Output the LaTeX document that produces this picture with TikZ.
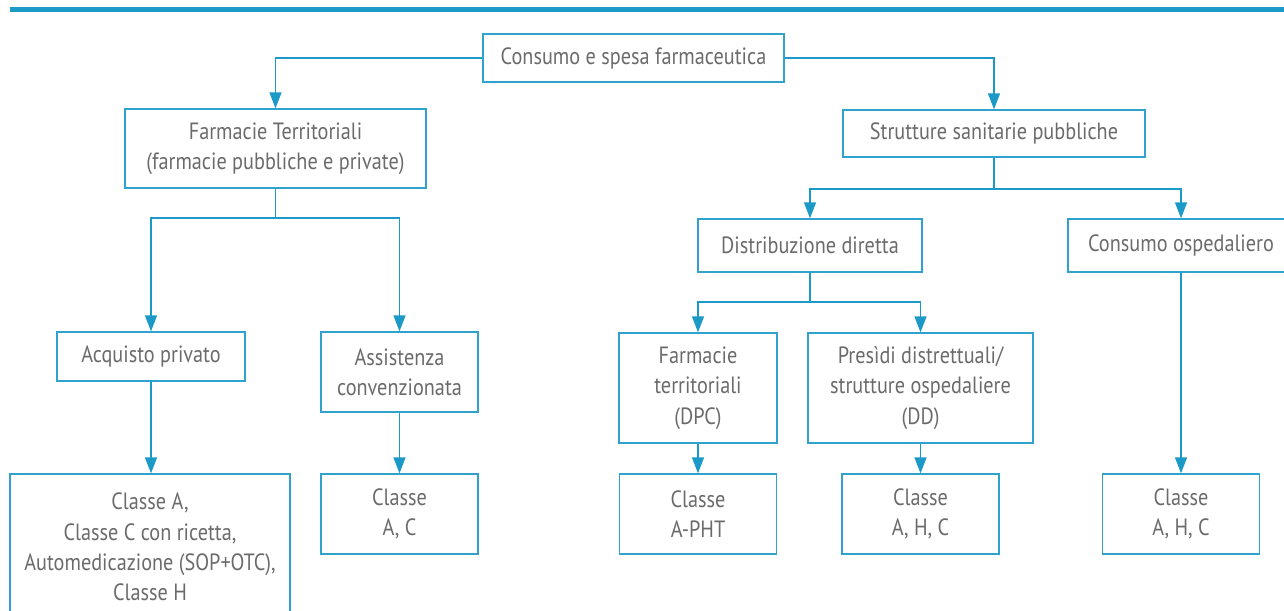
\documentclass[tikz,border=0pt]{standalone}
\usepackage{fontspec}
\setmainfont{PT Sans}[FakeStretch=0.86]
\usetikzlibrary{arrows.meta}
\definecolor{linkblue}{HTML}{1B9AC7}
\definecolor{boxblue}{HTML}{2FA2CD}
\definecolor{textgray}{HTML}{6B6B6B}
\begin{document}
\begin{tikzpicture}[x=0.02cm, y=-0.02cm,
		box/.style={draw=boxblue, line width=0.75pt, fill=white, inner sep=0pt, align=center, text=textgray, font=\fontsize{13.4}{17.3}\selectfont},
		link/.style={draw=linkblue, line width=0.75pt},
		arrow/.style={link, -{Triangle[width=0.24cm, length=0.32cm]}}]
	\useasboundingbox (0,0) rectangle (1284,611);
	\fill[linkblue] (10,7) rectangle (1284,12);

	\node[box, minimum width=6.02cm, minimum height=0.96cm] at (633.5,58) (top) {Consumo e spesa farmaceutica};
	\node[box, minimum width=6.02cm, minimum height=1.58cm] at (275.5,148.5) (farm) {Farmacie Territoriali\\(farmacie pubbliche e private)};
	\node[box, minimum width=6.04cm, minimum height=0.94cm] at (994,133.5) (strut) {Strutture sanitarie pubbliche};
	\node[box, minimum width=4.48cm, minimum height=1.06cm] at (810,245.5) (distr) {Distribuzione diretta};
	\node[box, minimum width=4.52cm, minimum height=1.06cm] at (1181,245.5) (osped) {Consumo ospedaliero};
	\node[box, minimum width=3.76cm, minimum height=0.98cm] at (151,356.5) (acq) {Acquisto privato};
	\node[box, minimum width=3.14cm, minimum height=1.6cm] at (399.5,372) (ass) {Assistenza\\convenzionata};
	\node[box, minimum width=3.16cm, minimum height=2.2cm] at (698,388) (dpc) {Farmacie\\territoriali\\(DPC)};
	\node[box, minimum width=4.5cm, minimum height=2.2cm] at (920.5,388) (pres) {Presìdi distrettuali/\\strutture ospedaliere\\(DD)};

	\node[box, minimum width=5.6cm, minimum height=2.92cm] at (150,547) (cl1) {Classe A,\\Classe C con ricetta,\\Automedicazione (SOP+OTC),\\Classe H};
	\node[box, minimum width=3.14cm, minimum height=1.6cm] at (399.5,514) (cl2) {Classe\\A, C};
	\node[box, minimum width=3.14cm, minimum height=1.6cm] at (698,514) (cl3) {Classe\\A-PHT};
	\node[box, minimum width=3.14cm, minimum height=1.6cm] at (920.5,514) (cl4) {Classe\\A, H, C};
	\node[box, minimum width=3.14cm, minimum height=1.6cm] at (1181,514) (cl5) {Classe\\A, H, C};

	\coordinate (f1) at (275.5,218);
	\coordinate (f2) at (994,189);
	\coordinate (f3) at (810,302);

	\draw[arrow] (top.west) -| (farm.north);
	\draw[arrow] (top.east) -| (strut.north);
	\draw[link] (farm.south) -- (f1);
	\draw[arrow] (f1) -| (acq.north);
	\draw[arrow] (f1) -| (ass.north);
	\draw[link] (strut.south) -- (f2);
	\draw[arrow] (f2) -| (distr.north);
	\draw[arrow] (f2) -| (osped.north);
	\draw[link] (distr.south) -- (f3);
	\draw[arrow] (f3) -| (dpc.north);
	\draw[arrow] (f3) -| (pres.north);
	\draw[arrow] (acq.south) -- (cl1.north -| acq.south);
	\draw[arrow] (ass.south) -- (cl2.north);
	\draw[arrow] (dpc.south) -- (cl3.north);
	\draw[arrow] (pres.south) -- (cl4.north);
	\draw[arrow] (osped.south) -- (cl5.north);
\end{tikzpicture}
\end{document}
